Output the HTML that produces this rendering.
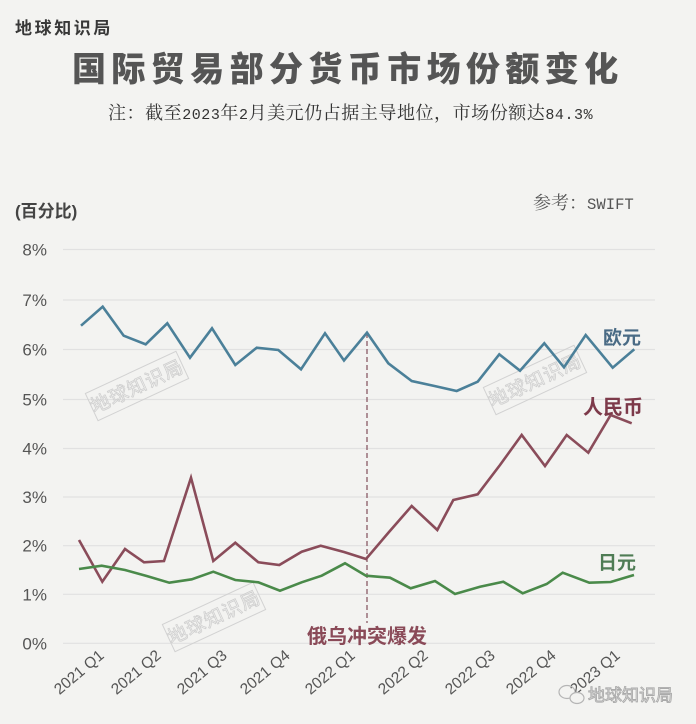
<!DOCTYPE html>
<html><head><meta charset="utf-8">
<style>
html,body{margin:0;padding:0;background:#f3f3f1;}
svg{display:block;}
.cjk{font-family:"Liberation Sans","Noto Sans CJK SC",sans-serif;}
.serif{font-family:"Noto Serif CJK SC","Liberation Serif",serif;}
.mono{font-family:"Liberation Mono",monospace;}
</style></head>
<body>
<svg width="696" height="724" viewBox="0 0 696 724" xmlns="http://www.w3.org/2000/svg">
<rect width="696" height="724" fill="#f3f3f1"/>

<!-- header -->
<text x="15" y="34" class="cjk" font-size="17" font-weight="bold" fill="#383838" letter-spacing="2.6">地球知识局</text>
<text x="72" y="81" class="cjk" font-size="34" font-weight="900" fill="#555" letter-spacing="5.4">国际贸易部分货币市场份额变化</text>
<text x="108" y="119" class="serif" font-size="18" fill="#333" letter-spacing="0.55">注：截至<tspan class="mono" font-size="15">2023</tspan>年<tspan class="mono" font-size="15">2</tspan>月美元仍占据主导地位，市场份额达<tspan class="mono" font-size="15">84.3%</tspan></text>

<text x="15" y="217" class="cjk" font-size="17" font-weight="bold" fill="#444">(百分比)</text>
<text x="533" y="209" class="serif" font-size="18" fill="#555">参考：<tspan class="mono" font-size="15.6">SWIFT</tspan></text>

<!-- gridlines -->
<g stroke="#e1e1e1" stroke-width="1.2">
<line x1="63" x2="655" y1="249.5" y2="249.5"/>
<line x1="63" x2="655" y1="300" y2="300"/>
<line x1="63" x2="655" y1="349.5" y2="349.5"/>
<line x1="63" x2="655" y1="399.5" y2="399.5"/>
<line x1="63" x2="655" y1="448.5" y2="448.5"/>
<line x1="63" x2="655" y1="497" y2="497"/>
<line x1="63" x2="655" y1="545.7" y2="545.7"/>
<line x1="63" x2="655" y1="594.3" y2="594.3"/>
<line x1="63" x2="655" y1="643.3" y2="643.3"/>
</g>

<!-- y labels -->
<g font-family="Liberation Sans, sans-serif" font-size="17" fill="#555" text-anchor="end">
<text x="47" y="255.5">8%</text>
<text x="47" y="306">7%</text>
<text x="47" y="355.5">6%</text>
<text x="47" y="405.5">5%</text>
<text x="47" y="454.5">4%</text>
<text x="47" y="503">3%</text>
<text x="47" y="551.7">2%</text>
<text x="47" y="600.3">1%</text>
<text x="47" y="649.3">0%</text>
</g>

<!-- watermarks -->
<g fill="none" stroke="#d2d2d2" stroke-width="1">
<g transform="translate(137,386) rotate(-25)">
<rect x="-50" y="-15" width="100" height="30"/>
<text x="0" y="7" text-anchor="middle" class="cjk" font-size="19" stroke="#cfcfcf" stroke-width="0.8" fill="none" letter-spacing="1">地球知识局</text>
</g>
<g transform="translate(535,380) rotate(-25)">
<rect x="-50" y="-15" width="100" height="30"/>
<text x="0" y="7" text-anchor="middle" class="cjk" font-size="19" stroke="#cfcfcf" stroke-width="0.8" fill="none" letter-spacing="1">地球知识局</text>
</g>
<g transform="translate(214,617) rotate(-25)">
<rect x="-50" y="-15" width="100" height="30"/>
<text x="0" y="7" text-anchor="middle" class="cjk" font-size="19" stroke="#cfcfcf" stroke-width="0.8" fill="none" letter-spacing="1">地球知识局</text>
</g>
</g>

<!-- dashed event line -->
<line x1="367" y1="333" x2="367" y2="623" stroke="#8a5a66" stroke-width="1.3" stroke-dasharray="5,3"/>

<!-- series -->
<g fill="none" stroke-width="2.6" stroke-linejoin="miter" stroke-linecap="butt">
<polyline stroke="#4b8099" points="81,325.7 102.7,306.7 123.7,335.7 145.7,344.3 167.3,323.3 190,357.7 212,328.3 235.3,365 256.7,347.7 278.3,350 301,369.3 325,333.3 344,360.5 367,332.7 388.3,363.3 411.7,381 434.5,386 456.7,391 477.7,381.7 499.3,354.3 520,370.7 544.3,343.3 564,367.3 585.7,335 612.7,367.7 634.3,349.3"/>
<polyline stroke="#8a4c5a" points="79,540 102.3,581.7 125,549 144,562.3 164,561 191,477.7 213.3,561 235.3,542.7 258.3,562.3 279.3,565 301.7,551.7 320.7,545.7 344,552 366,559 389,532 411.7,506 437.3,530 453.3,500 477.7,494.3 500,465 521.7,435 545,466 566.7,435 588.3,452.7 610.7,415 631.7,423.3"/>
<polyline stroke="#4a8a4a" points="79,569 101.7,565.7 125,570 146.7,576 169.3,582.7 191.7,579.3 213.3,571.7 235.3,580 258.3,582.3 280,590.7 301.7,582.3 321.7,575.7 345,563.3 366,575.7 390,577.7 410.7,588.3 435,581 455,594 480,586.7 503.3,581.7 522.7,593.3 546.7,584 562.7,572.7 589.3,582.7 610.7,582 634,575"/>
</g>

<!-- series labels -->
<text x="603" y="344" class="cjk" font-size="19" font-weight="bold" fill="#4a6b85">欧元</text>
<text x="583" y="414" class="cjk" font-size="20" font-weight="bold" fill="#7d3a4a">人民币</text>
<text x="598" y="569" class="cjk" font-size="19" font-weight="bold" fill="#4f7c55">日元</text>
<text x="307" y="643" class="cjk" font-size="20" font-weight="bold" fill="#8a4a58">俄乌冲突爆发</text>

<!-- x labels -->
<g font-family="Liberation Sans, sans-serif" font-size="15.5" fill="#555" text-anchor="end">
<text transform="translate(105,657) rotate(-40)">2021 Q1</text>
<text transform="translate(162,657) rotate(-40)">2021 Q2</text>
<text transform="translate(228,657) rotate(-40)">2021 Q3</text>
<text transform="translate(291,657) rotate(-40)">2021 Q4</text>
<text transform="translate(356,657) rotate(-40)">2022 Q1</text>
<text transform="translate(429,657) rotate(-40)">2022 Q2</text>
<text transform="translate(496,657) rotate(-40)">2022 Q3</text>
<text transform="translate(557,657) rotate(-40)">2022 Q4</text>
<text transform="translate(621,657) rotate(-40)">2023 Q1</text>
</g>

<!-- bottom right watermark -->
<g fill="none" stroke="#b5b5b5" stroke-width="1.2">
<ellipse cx="567" cy="692" rx="8" ry="6.5"/>
<ellipse cx="577" cy="698" rx="7" ry="5.5" fill="#f3f3f1"/>
</g>
<text x="588" y="701" class="cjk" font-size="17" fill="#f3f3f1" stroke="#aaa" stroke-width="0.9">地球知识局</text>
</svg>
</body></html>
